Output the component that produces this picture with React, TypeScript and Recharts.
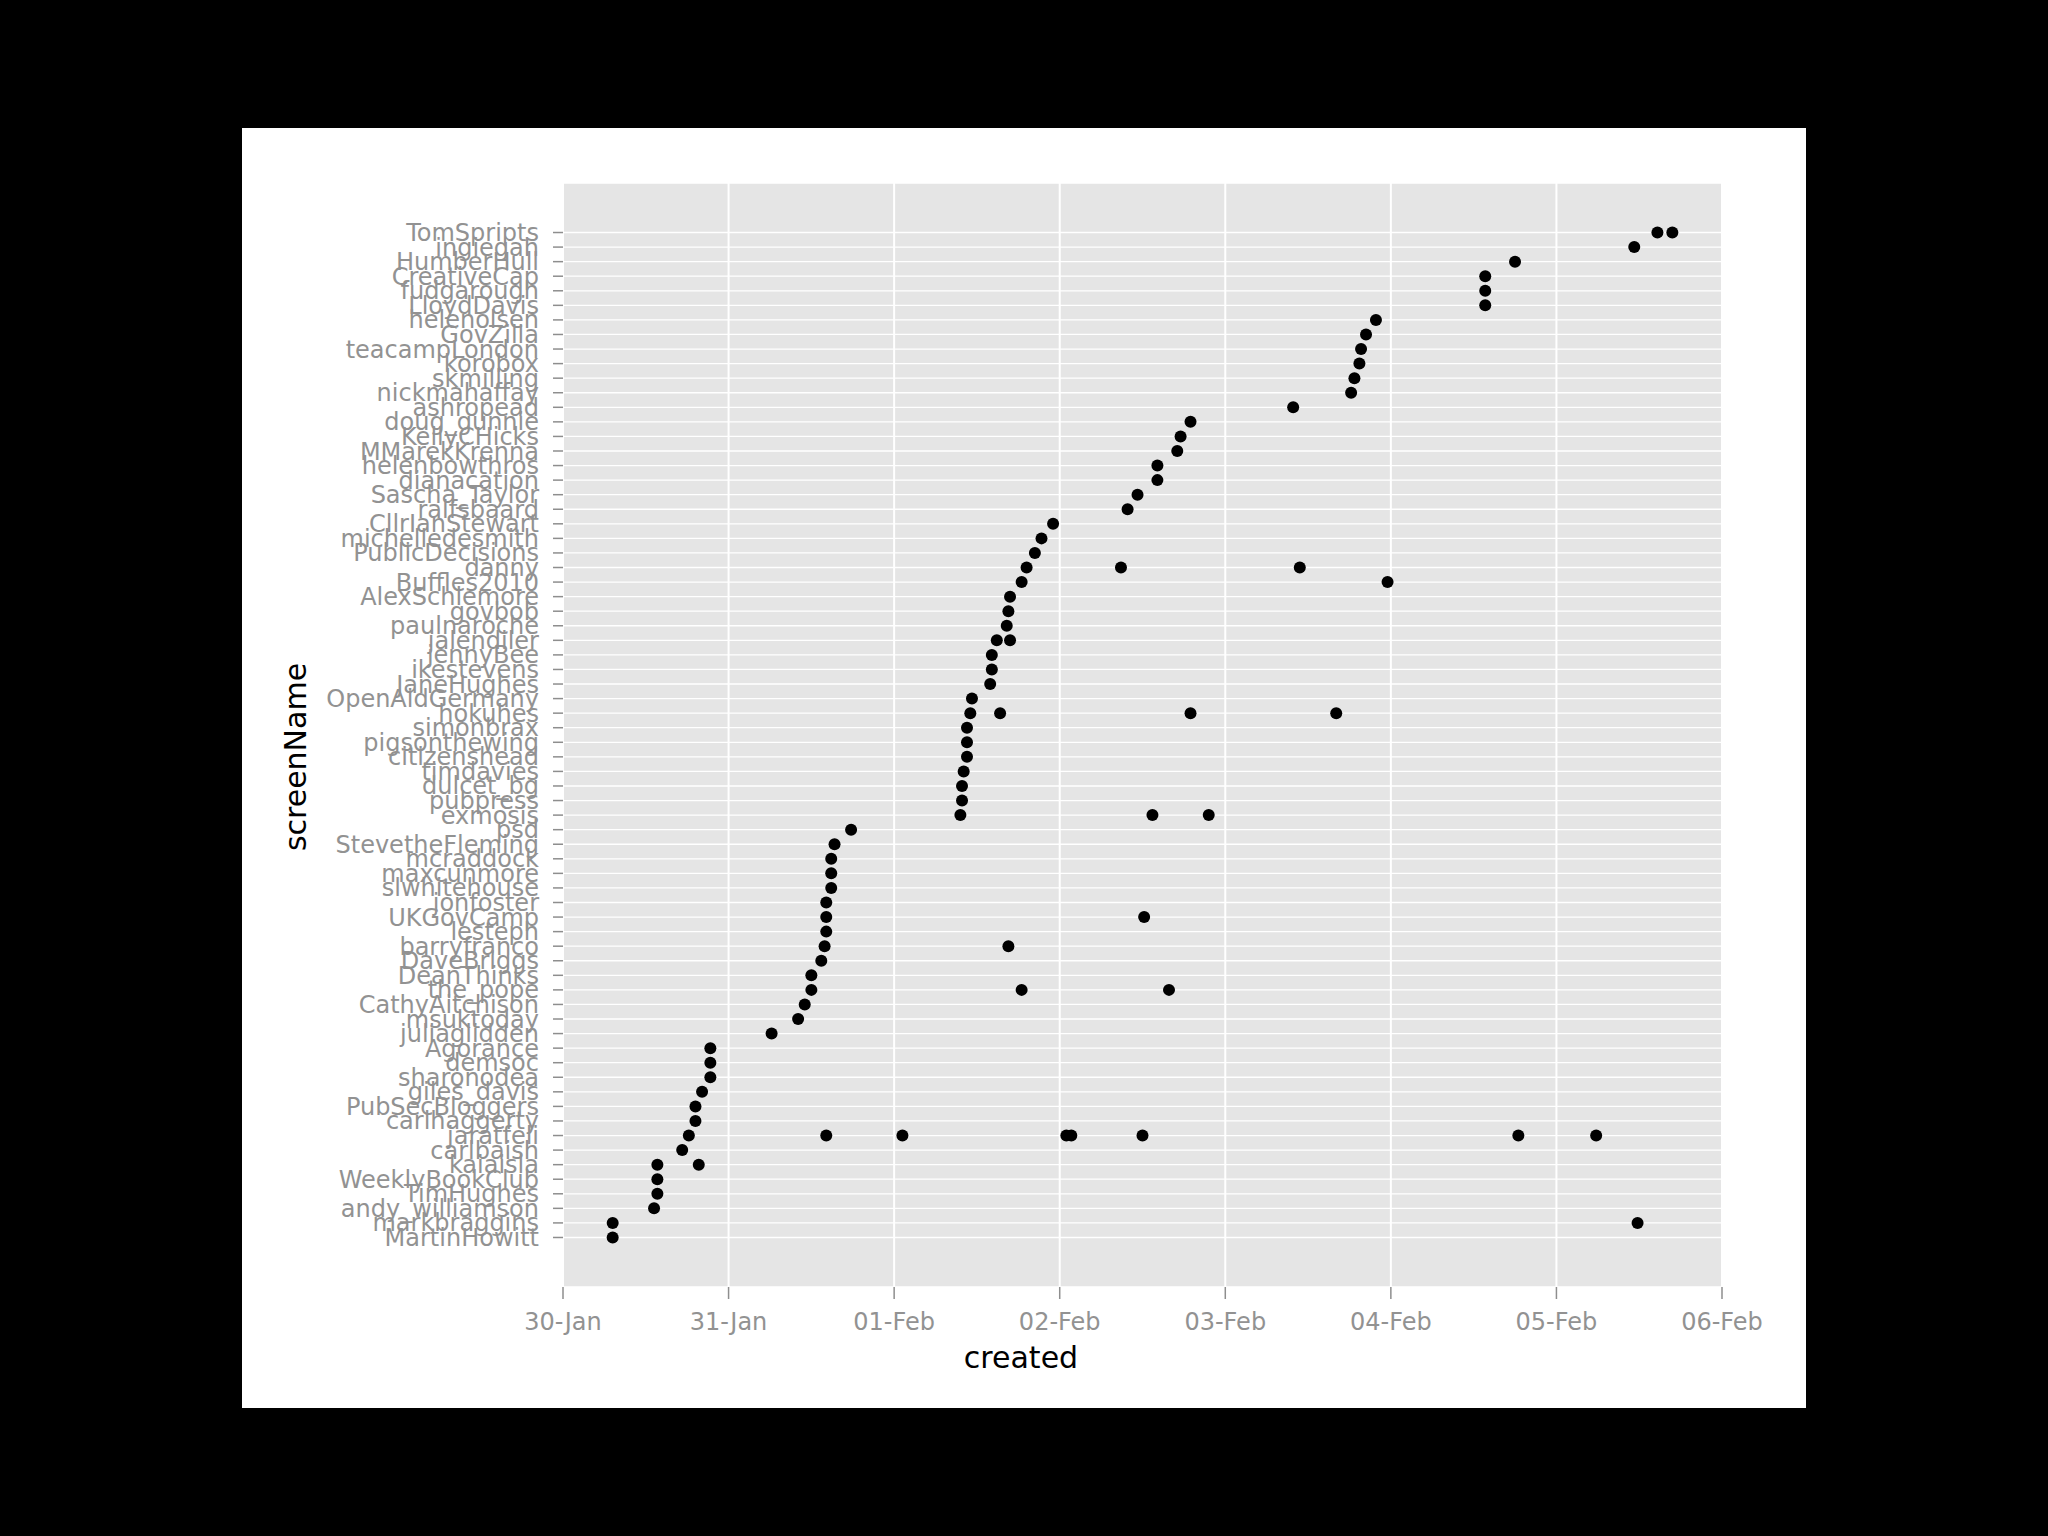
import {
  ScatterChart,
  Scatter,
  XAxis,
  YAxis,
  CartesianGrid,
} from "recharts";

// screen names, top of the axis first
const screenNames = [
  "TomSpripts", "ingiegah", "HumberHull", "CreativeCap", "fudgarough",
  "LloydDavis", "helenolsen", "GovZilla", "teacampLondon", "korobox",
  "skmilling", "nickmahaffay", "ashropead", "doug_gunnie", "KellyCHicks",
  "MMarekKrenna", "helenbowthros", "dianacation", "Sascha_Taylor", "ralfsbaard",
  "CllrIanStewart", "michelledesmith", "PublicDecisions", "danny", "Buffles2010",
  "AlexSchlemore", "govbob", "paulnaroche", "jalendiler", "jennyBee",
  "ikestevens", "JaneHughes", "OpenAidGermany", "hokuhes", "simonbrax",
  "pigsonthewing", "citizenshead", "timdavies", "dulcet_bg", "pubpress",
  "exmosis", "psd", "StevetheFleming", "mcraddock", "maxcunmore",
  "slwhitehouse", "jonfoster", "UKGovCamp", "lesteph", "barryfranco",
  "DaveBriggs", "DeanThinks", "the_pope", "CathyAitchison", "msuktoday",
  "juliaglidden", "Agorance", "demsoc", "sharonodea", "giles_davis",
  "PubSecBloggers", "carlhaggerty", "jaratfeli", "carlbaish", "kaiaisla",
  "WeeklyBookClub", "TimHughes", "andy_williamson", "markbraggins", "MartinHowitt",
];

// tweet times per screen name, in days after 30-Jan 00:00
const createdDays: number[][] = [
  [6.61, 6.7], [6.47], [5.75], [5.57], [5.57],
  [5.57], [4.91], [4.85], [4.82], [4.81],
  [4.78], [4.76], [4.41], [3.79], [3.73],
  [3.71], [3.59], [3.59], [3.47], [3.41],
  [2.96], [2.89], [2.85], [2.8, 3.37, 4.45], [2.77, 4.98],
  [2.7], [2.69], [2.68], [2.62, 2.7], [2.59],
  [2.59], [2.58], [2.47], [2.46, 2.64, 3.79, 4.67], [2.44],
  [2.44], [2.44], [2.42], [2.41], [2.41],
  [2.4, 3.56, 3.9], [1.74], [1.64], [1.62], [1.62],
  [1.62], [1.59], [1.59, 3.51], [1.59], [1.58, 2.69],
  [1.56], [1.5], [1.5, 2.77, 3.66], [1.46], [1.42],
  [1.26], [0.89], [0.89], [0.89], [0.84],
  [0.8], [0.8], [0.76, 1.59, 2.05, 3.04, 3.07, 3.5, 5.77, 6.24], [0.72], [0.57, 0.82],
  [0.57], [0.57], [0.55], [0.3, 6.49], [0.3],
];

const dateLabels = [
  "30-Jan", "31-Jan", "01-Feb", "02-Feb", "03-Feb", "04-Feb", "05-Feb", "06-Feb",
];

const tweets = screenNames.flatMap((name, row) =>
  createdDays[row].map((created) => ({ screenName: name, row, created }))
);

const tickStyle = { fontSize: 24, fill: "#929292", fontFamily: "DejaVu Sans" };

const Dot = (p: any) => <circle cx={p.cx} cy={p.cy} r={6} fill="#000" />;

export default function App() {
  return (
    <div
      style={{
        position: "absolute",
        left: 0,
        top: 0,
        width: 2048,
        height: 1536,
        background: "#000",
      }}
    >
      <div
        style={{
          position: "absolute",
          left: 242,
          top: 128,
          width: 1564,
          height: 1280,
          background: "#fff",
          fontFamily: "DejaVu Sans",
        }}
      >
        <ScatterChart
          width={1564}
          height={1280}
          margin={{ top: 55, right: 84, bottom: 0, left: 0 }}
        >
          <CartesianGrid
            fill="#e5e5e5"
            stroke="#fff"
            strokeWidth={1.3}
            vertical={false}
          />
          <CartesianGrid stroke="#fff" strokeWidth={2} horizontal={false} />
          <XAxis
            type="number"
            dataKey="created"
            domain={[0, 7]}
            ticks={dateLabels.map((_, i) => i)}
            tickFormatter={(v: number) => dateLabels[v]}
            interval={0}
            axisLine={false}
            tickLine={{ stroke: "#8e8e8e", strokeWidth: 1.5 }}
            tickSize={12}
            tickMargin={14}
            height={121}
            tick={tickStyle}
          />
          <YAxis
            type="number"
            dataKey="row"
            reversed
            domain={[-3.4, 72.4]}
            ticks={screenNames.map((_, i) => i)}
            tickFormatter={(v: number) => screenNames[v]}
            interval={0}
            axisLine={false}
            tickLine={{ stroke: "#8e8e8e", strokeWidth: 1.5 }}
            tickSize={10}
            tickMargin={14}
            width={321}
            tick={tickStyle}
          />
          <Scatter data={tweets} shape={Dot} isAnimationActive={false} />
        </ScatterChart>
        <div
          style={{
            position: "absolute",
            left: 779,
            top: 1229,
            transform: "translate(-50%, -50%)",
            fontSize: 30,
            color: "#000",
            whiteSpace: "nowrap",
          }}
        >
          created
        </div>
        <div
          style={{
            position: "absolute",
            left: 53,
            top: 629,
            transform: "translate(-50%, -50%) rotate(-90deg)",
            fontSize: 30,
            color: "#000",
            whiteSpace: "nowrap",
          }}
        >
          screenName
        </div>
      </div>
    </div>
  );
}
